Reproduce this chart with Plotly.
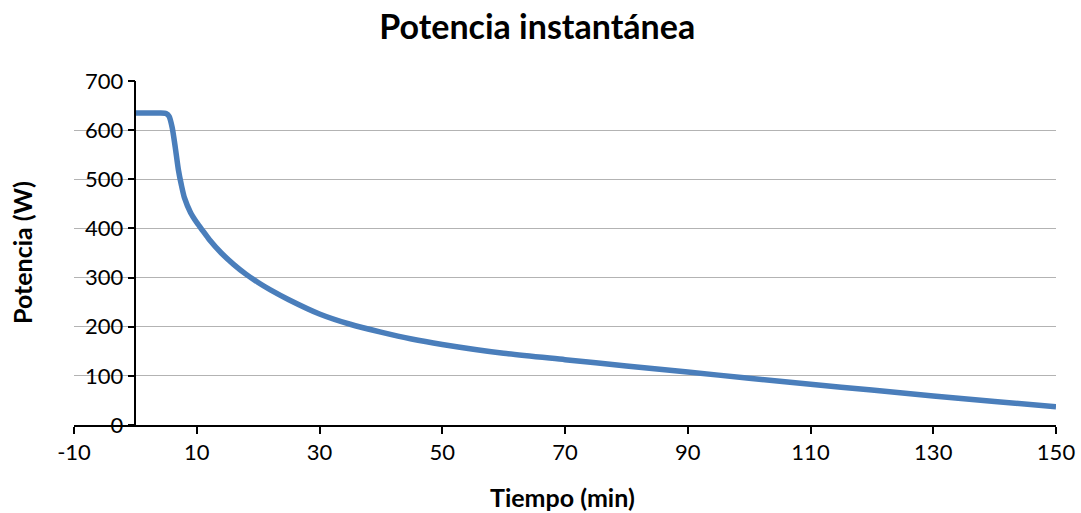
import plotly.graph_objects as go

tiempo = [0, 1, 2, 3, 4, 5, 5.5, 6, 6.5, 7, 7.5, 8, 9, 10, 11, 12, 14, 16, 18, 20, 22, 25,
          30, 35, 40, 45, 50, 60, 70, 80, 90, 100, 110, 120, 130, 140, 150]
potencia = [635, 635, 635, 635, 635, 634, 628, 605, 565, 520, 488, 462, 432, 412, 395, 378,
            350, 327, 307, 290, 275, 255, 226, 205, 189, 175, 164, 146, 133, 120, 108, 95,
            83, 71, 59, 48, 37]
x_ticks = [-10, 10, 30, 50, 70, 90, 110, 130, 150]
y_ticks = [0, 100, 200, 300, 400, 500, 600, 700]

FONT = "Lato"

fig = go.Figure()
fig.add_trace(go.Scatter(
    x=tiempo, y=potencia, mode="lines",
    line=dict(color="#4A7EBB", width=5.5, shape="spline", smoothing=0.6),
    showlegend=False, hoverinfo="x+y"))

fig.update_layout(
    width=1081, height=513,
    margin=dict(l=74, r=25, t=81, b=88, autoexpand=False),
    paper_bgcolor="white", plot_bgcolor="white",
    font=dict(family=FONT, size=22, color="black"),
    title=dict(text="<b>Potencia instantánea</b>", x=0.497, xanchor="center",
               y=1 - 27 / 513, yref="container", yanchor="middle",
               font=dict(family=FONT, size=34, color="black")),
    xaxis=dict(range=[-10, 150], tickvals=x_ticks, ticktext=[str(v) for v in x_ticks],
               showgrid=False, zeroline=False, showline=True, linecolor="black",
               linewidth=1.5, ticks="outside", ticklen=7, tickcolor="black",
               tickwidth=1.5, tickfont=dict(size=22), automargin=False),
    yaxis=dict(range=[0, 700], tickvals=y_ticks, showgrid=True, gridcolor="#B3B3B3",
               gridwidth=1.3, zeroline=False, showline=True, linecolor="black",
               linewidth=1.5, ticks="outside", ticklen=7, tickcolor="black",
               tickwidth=1.5, anchor="free", position=10 / 160,
               tickfont=dict(size=22), automargin=False),
    annotations=[
        dict(text="<b>Potencia (W)</b>", xref="paper", yref="paper",
             x=(22 - 74) / 982, y=(425 - 253) / 344, textangle=-90,
             showarrow=False, xanchor="center", yanchor="middle",
             font=dict(family=FONT, size=25, color="black")),
        dict(text="<b>Tiempo (min)</b>", xref="paper", yref="paper",
             x=(562 - 74) / 982, y=(425 - 497) / 344,
             showarrow=False, xanchor="center", yanchor="middle",
             font=dict(family=FONT, size=25, color="black")),
    ],
)

fig.write_html("out.html")
